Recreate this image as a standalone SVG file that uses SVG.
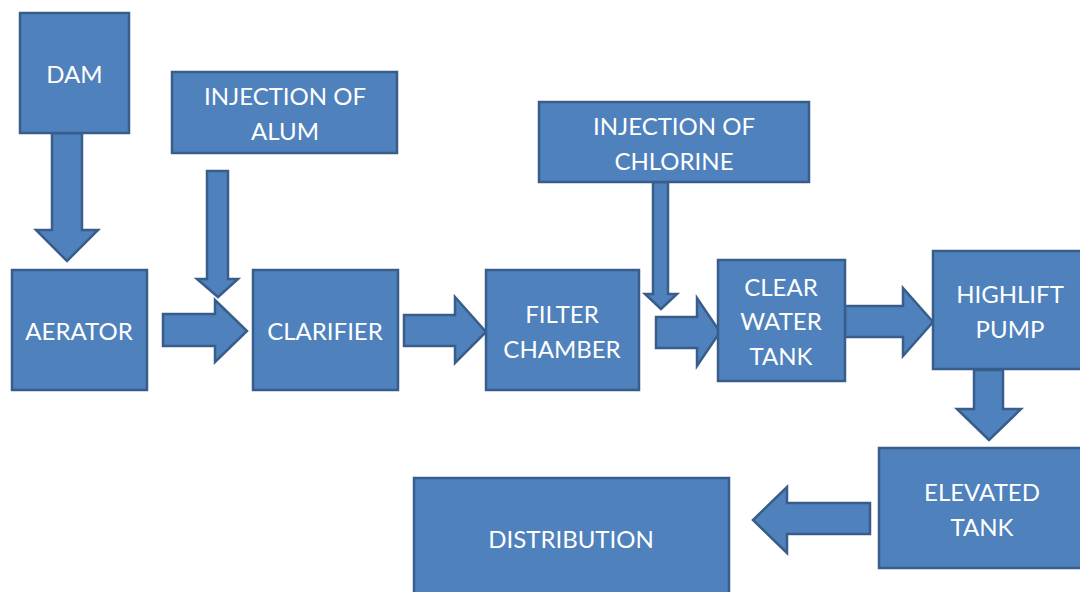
<svg xmlns="http://www.w3.org/2000/svg" width="1080" height="592" viewBox="0 0 1080 592">
<style>
.box{fill:#4F81BD;stroke:#385D8A;stroke-width:2.5}
.arr{fill:#4F81BD;stroke:#385D8A;stroke-width:2.5;stroke-linejoin:miter}
.t{fill:#FFFFFF;font-family:Lato,"Liberation Sans",sans-serif;font-size:24px;text-anchor:middle}
</style>
<rect width="1080" height="592" fill="#FFFFFF"/>
<g id="connectors">
<polygon class="arr" points="52,133 82,133 82,230 98,230 67,261 36,230 52,230"/>
<polygon class="arr" points="207,171 228,171 228,279 238,279 218,297 197,279 207,279"/>
<polygon class="arr" points="163,314 215,314 215,300 247,331 215,362 215,346 163,346"/>
<polygon class="arr" points="404,315 455,315 455,297 486,332 455,363 455,346 404,346"/>
<polygon class="arr" points="653,182 668,182 668,294 677,294 661,309 645,294 653,294"/>
<polygon class="arr" points="656,317 697,317 697,298 720,332 697,366 697,348 656,348"/>
<polygon class="arr" points="845,306 903,306 903,288 933,322 903,356 903,337 845,337"/>
<polygon class="arr" points="974,370 1003,370 1003,409 1021,409 989,440 957,409 974,409"/>
<polygon class="arr" points="870,503 787,503 787,487 753,520 787,553 787,534 870,534"/>
</g>
<g id="dam"><rect class="box" x="20" y="13" width="109" height="120"/><text class="t" x="74.5" y="83">DAM</text></g>
<g id="alum"><rect class="box" x="172" y="72" width="225" height="81"/><text class="t" x="285" y="105">INJECTION OF</text><text class="t" x="285" y="140">ALUM</text></g>
<g id="aerator"><rect class="box" x="12" y="270" width="135" height="120"/><text class="t" x="79" y="340">AERATOR</text></g>
<g id="clarifier"><rect class="box" x="253" y="270" width="145" height="120"/><text class="t" x="325" y="340">CLARIFIER</text></g>
<g id="filter"><rect class="box" x="486" y="270" width="153" height="120"/><text class="t" x="562" y="323">FILTER</text><text class="t" x="562" y="358">CHAMBER</text></g>
<g id="chlorine"><rect class="box" x="539" y="102" width="270" height="80"/><text class="t" x="674" y="135">INJECTION OF</text><text class="t" x="674" y="170">CHLORINE</text></g>
<g id="clearwater"><rect class="box" x="718" y="260" width="127" height="121"/><text class="t" x="781" y="296">CLEAR</text><text class="t" x="781" y="330">WATER</text><text class="t" x="781" y="365">TANK</text></g>
<g id="highlift"><rect class="box" x="933" y="251" width="150" height="118"/><text class="t" x="1010" y="303">HIGHLIFT</text><text class="t" x="1010" y="338">PUMP</text></g>
<g id="elevated"><rect class="box" x="879" y="448" width="204" height="120"/><text class="t" x="982" y="501">ELEVATED</text><text class="t" x="982" y="536">TANK</text></g>
<g id="distribution"><rect class="box" x="414" y="478" width="315" height="120"/><text class="t" x="571" y="548">DISTRIBUTION</text></g>
</svg>
